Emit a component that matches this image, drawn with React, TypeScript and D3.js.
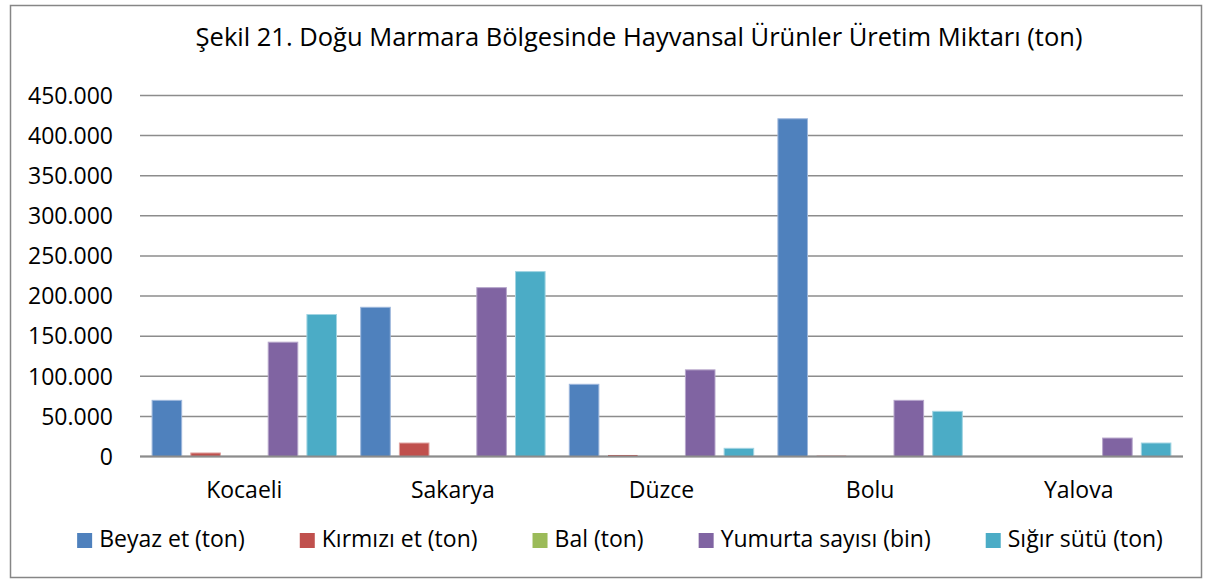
import React, { useEffect, useRef } from "react";
import * as d3 from "d3";

const categories = ["Kocaeli", "Sakarya", "Düzce", "Bolu", "Yalova"];
const seriesNames = ["Beyaz et (ton)", "Kırmızı et (ton)", "Bal (ton)", "Yumurta sayısı (bin)", "Sığır sütü (ton)"];
const beyazEt = [70000, 186000, 90000, 421000, 0];
const kirmiziEt = [4400, 16800, 1900, 1000, 300];
const bal = [300, 400, 200, 500, 100];
const yumurta = [142500, 210500, 108000, 70000, 23000];
const sigirSutu = [177000, 230500, 10200, 56300, 16800];
const yTicks = [0, 50000, 100000, 150000, 200000, 250000, 300000, 350000, 400000, 450000];
const title = "Şekil 21. Doğu Marmara Bölgesinde Hayvansal Ürünler Üretim Miktarı (ton)";

const colors = ["#4F81BD", "#C0504D", "#9BBB59", "#8064A2", "#4BACC6"];
const strokeColors = ["#9DB7DC", "#E0A3A1", "#CADBAA", "#B6A6CB", "#A1D4E2"];

const W = 1211;
const H = 583;
const FONT = "'Open Sans', sans-serif";

export default function App() {
  const ref = useRef<SVGSVGElement | null>(null);

  useEffect(() => {
    const svg = d3.select(ref.current);
    svg.selectAll("*").remove();

    const seriesValues = [beyazEt, kirmiziEt, bal, yumurta, sigirSutu];
    const left = 140;
    const right = 1183;
    const top = 95.5;
    const bottom = 456.5;

    svg.append("rect").attr("x", 0).attr("y", 0).attr("width", W).attr("height", H).attr("fill", "#fff");
    svg.append("rect")
      .attr("x", 10.5).attr("y", 5.5).attr("width", 1191).attr("height", 572)
      .attr("fill", "#fff").attr("stroke", "#868686").attr("stroke-width", 1.5);

    svg.append("text")
      .attr("x", 639).attr("y", 46)
      .attr("text-anchor", "middle")
      .attr("font-family", FONT).attr("font-size", 25.5).attr("fill", "#000")
      .text(title);

    const y = d3.scaleLinear().domain([0, 450000]).range([bottom, top]);
    const x0 = d3.scaleBand<string>().domain(categories).range([left, right]).paddingInner(0).paddingOuter(0);
    const inner = 11.6;
    const x1 = d3.scaleBand<number>().domain(d3.range(seriesNames.length))
      .range([inner, x0.bandwidth() - inner]).paddingInner(0.21).paddingOuter(0);

    const fmt = (v: number) => (v === 0 ? "0" : d3.format(",")(v).replace(/,/g, "."));

    // gridlines
    svg.append("g").selectAll("line").data(yTicks).join("line")
      .attr("x1", left).attr("x2", right)
      .attr("y1", (d) => y(d)).attr("y2", (d) => y(d))
      .attr("stroke", "#8c8c8c").attr("stroke-width", 1.5);

    // y labels
    svg.append("g").selectAll("text").data(yTicks).join("text")
      .attr("x", 113).attr("y", (d) => y(d)).attr("dy", "0.36em")
      .attr("text-anchor", "end")
      .attr("font-family", FONT).attr("font-size", 23).attr("fill", "#000")
      .text((d) => fmt(d));

    // bars
    const groups = svg.append("g").selectAll("g").data(categories).join("g")
      .attr("transform", (c) => `translate(${x0(c)},0)`);
    groups.selectAll("rect")
      .data((c) => seriesValues.map((vals, si) => ({ si, v: vals[categories.indexOf(c)] })))
      .join("rect")
      .attr("x", (d) => (x1(d.si) as number) + 0.5)
      .attr("width", x1.bandwidth() - 1)
      .attr("y", (d) => y(d.v))
      .attr("height", (d) => Math.max(0, bottom - y(d.v)))
      .attr("fill", (d) => colors[d.si])
      .attr("stroke", (d) => strokeColors[d.si])
      .attr("stroke-width", (d) => (bottom - y(d.v) > 2 ? 1 : 0));

    // baseline
    svg.append("line").attr("x1", left).attr("x2", right).attr("y1", bottom).attr("y2", bottom)
      .attr("stroke", "#8c8c8c").attr("stroke-width", 1.8);

    // category labels
    svg.append("g").selectAll("text").data(categories).join("text")
      .attr("x", (c) => (x0(c) as number) + x0.bandwidth() / 2).attr("y", 498)
      .attr("text-anchor", "middle")
      .attr("font-family", FONT).attr("font-size", 23).attr("fill", "#000")
      .text((c) => c);

    // legend
    const lg = svg.append("g");
    const items = lg.selectAll("g").data(seriesNames).join("g");
    const sq = 15;
    const textGap = 7;
    const itemGap = 55;
    items.append("rect").attr("x", 0).attr("y", 533).attr("width", sq).attr("height", sq)
      .attr("fill", (d, i) => colors[i]);
    items.append("text").attr("x", sq + textGap).attr("y", 547)
      .attr("font-family", FONT).attr("font-size", 23).attr("fill", "#000")
      .text((d) => d);
    const widths: number[] = [];
    items.each(function () {
      const t = d3.select(this).select("text").node() as SVGTextElement;
      widths.push(sq + textGap + t.getComputedTextLength());
    });
    const total = d3.sum(widths) + itemGap * (widths.length - 1);
    let cx = 620 - total / 2;
    items.attr("transform", (d, i) => {
      const tx = cx;
      cx += widths[i] + itemGap;
      return `translate(${tx},0)`;
    });
  }, []);

  return (
    <svg ref={ref} width={W} height={H} style={{ position: "absolute", left: 0, top: 0, display: "block" }} />
  );
}
